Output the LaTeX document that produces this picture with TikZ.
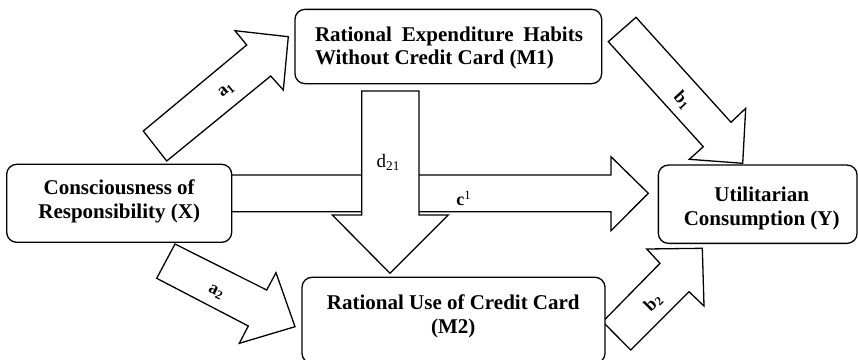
\documentclass[tikz,border=0pt]{standalone}
\usepackage{fontspec}
\setmainfont{Liberation Serif}
\begin{document}
\begin{tikzpicture}[x=1pt,y=-1pt,
  box/.style={draw,line width=1.3pt,rounded corners=10pt,fill=white,inner sep=0pt},
  blk/.style={draw,line width=1.3pt,fill=white,line join=miter},
  lbl/.style={font=\fontsize{18}{20}\selectfont\bfseries,inner sep=0pt},
  dlbl/.style={font=\fontsize{19}{21}\selectfont,inner sep=0pt},
  boxtext/.style={font=\fontsize{21}{23.4}\selectfont\bfseries,align=center,inner sep=0pt}
]
\useasboundingbox (0,0) rectangle (858,359);

% direct path c (behind everything)
\draw[blk] (225,175) -- (611,175) -- (611,156.7) -- (648.3,193.3) -- (611,230.7) -- (611,211.7) -- (225,211.7) -- cycle;

% path d21 (drawn over c)
\draw[blk] (361.7,91) -- (419,91) -- (419,215) -- (448.3,215) -- (390,273.3) -- (332.3,215) -- (361.7,215) -- cycle;

% path a1
\draw[blk] (143.3,131) -- (246.7,45) -- (235,30.7) -- (288.3,36.7) -- (283.3,90) -- (270.7,76) -- (166.7,161) -- cycle;

% path a2
\draw[blk] (175,244) -- (266.7,290) -- (276,272.7) -- (295,326.7) -- (239.3,343.3) -- (248.3,326) -- (156.7,278.3) -- cycle;

% path b1
\draw[blk] (636,17.3) -- (731,122.3) -- (745.7,108.3) -- (742.7,163.3) -- (689.3,159.3) -- (703.3,146.7) -- (608.3,41.7) -- cycle;

% path b2
\draw[blk] (602.7,321.7) -- (660,263.3) -- (646.7,249) -- (702.3,248.3) -- (704,306) -- (689,291.7) -- (630.7,350) -- cycle;

% boxes
\node[box,minimum width=306.7pt,minimum height=74.3pt] (m1) at (448.3,46.5) {};
\node[box,minimum width=225pt,minimum height=78pt] (x) at (119.2,203.3) {};
\node[box,minimum width=198.7pt,minimum height=78.3pt] (y) at (757.7,204.2) {};
\node[box,minimum width=303pt,minimum height=86pt] (m2) at (453.5,320.3) {};

% box texts
\node[boxtext] (m1t) at (449,48.1) {\makebox[268pt][s]{Rational Expenditure Habits}\\[0.2pt]\makebox[268pt][l]{Without Credit Card (M1)}};
\node[boxtext] (xt) at (119.2,201.5) {Consciousness of\\Responsibility (X)};
\node[boxtext] (yt) at (761.7,208.5) {Utilitarian\\Consumption (Y)};
\node[boxtext] (m2t) at (453.3,316.4) {Rational Use of Credit Card\\(M2)};

% labels
\node[lbl,rotate=39.5] (la1) at (226.5,90.5) {a\textsubscript{1}};
\node[lbl,rotate=-27] (la2) at (216,292) {a\textsubscript{2}};
\node[lbl,rotate=-47.5] (lb1) at (682.3,100) {b\textsubscript{1}};
\node[lbl,rotate=45] (lb2) at (653.3,302.7) {b\textsubscript{2}};
\node[lbl] (lc) at (463.7,198.3) {c\textsuperscript{\mdseries 1}};
\node[dlbl] (ld) at (388.3,162.7) {d\textsubscript{21}};
\end{tikzpicture}
\end{document}
